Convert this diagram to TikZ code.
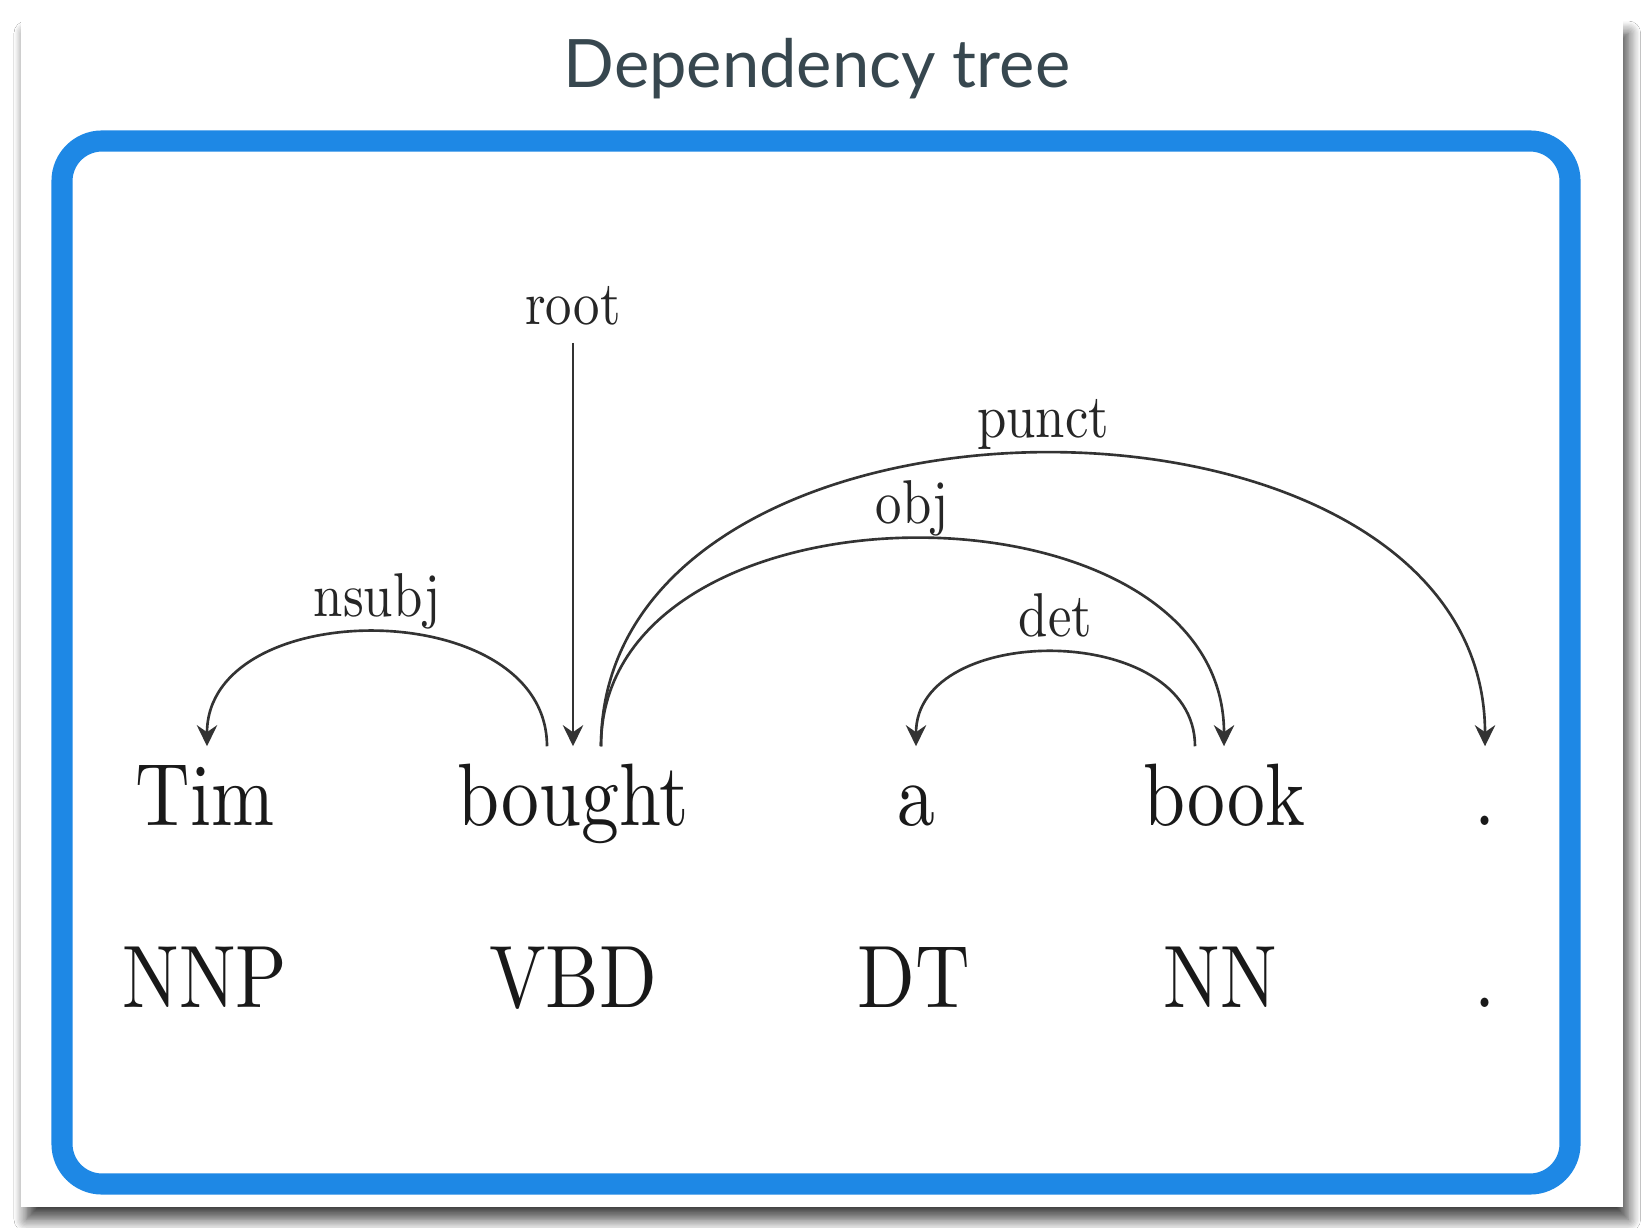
\documentclass[tikz,border=0pt]{standalone}
\usepackage{fontspec}
\usepackage{graphicx}
\usepackage{tikz}
\usetikzlibrary{arrows.meta,positioning,shadows.blur}
\newfontfamily\titlefont{Lato}
\definecolor{boxblue}{RGB}{30,136,229}
\definecolor{titlegray}{RGB}{55,71,79}
\newcommand{\wordtext}[1]{\scalebox{2.15}[2.52]{#1}}
\newcommand{\labeltext}[1]{\scalebox{1.5}[1.76]{#1}}

\begin{document}
\begin{tikzpicture}[
    x=0.01cm, y=-0.01cm,
    card/.style={fill=white, blur shadow={shadow xshift=1.5pt, shadow yshift=-3.5pt, shadow blur radius=3.5pt, shadow blur steps=10, shadow opacity=75}},
    frame/.style={draw=boxblue, line width=6pt, rounded corners=0.4cm},
    titletext/.style={anchor=base, inner sep=0, text=titlegray, font=\titlefont\fontsize{19}{23}\selectfont},
    word/.style={anchor=base, inner sep=0, text height=0.78cm, text depth=0.1cm, text=black!90},
    deplabel/.style={anchor=base, inner sep=0, text=black!85, yshift=0.16cm},
    dep/.style={-{Stealth[length=6pt, width=5.8pt, inset=2pt]}, line width=0.75pt, black!80}
  ]
    \useasboundingbox (0,0) rectangle (1643,1228);
    \fill[white] (0,0) rectangle (1643,1228);
    \path[card] (21,21) rectangle (1623,1207);
    \draw[frame] (62,141) rectangle (1570,1184);

    \node[titletext] (title) at (817,88) {Dependency tree};

    % words
    \node[word] (tim) at (205,825) {\wordtext{Tim}};
    \node[word] (bought) at (573,825) {\wordtext{bought}};
    \node[word] (a) at (916,825) {\wordtext{a}};
    \node[word] (book) at (1224,825) {\wordtext{book}};
    \node[word] (period) at (1485,825) {\wordtext{.}};

    % tags
    \node[word] (nnp) at (205,1007) {\wordtext{NNP}};
    \node[word] (vbd) at (573,1007) {\wordtext{VBD}};
    \node[word] (dt) at (914,1007) {\wordtext{DT}};
    \node[word] (nn) at (1220,1007) {\wordtext{NN}};
    \node[word] (punc) at (1485,1007) {\wordtext{.}};

    % arcs
    \coordinate (roottop) at (573,343);
    \draw[dep] (roottop) -- (bought.north) node[at start, deplabel, yshift=0.02cm] (l-root) {\labeltext{root}};
    \draw[dep] ([xshift=-0.26cm]bought.north) .. controls +(0,-152) and +(0,-152) .. ([xshift=0.02cm]tim.north)
      node[midway, deplabel] (l-nsubj) {\labeltext{nsubj}};
    \draw[dep] ([xshift=0.28cm]bought.north) .. controls +(0,-276) and +(0,-276) .. (book.north)
      node[midway, deplabel] (l-obj) {\labeltext{obj}};
    \draw[dep] ([xshift=0.28cm]bought.north) .. controls +(0,-390) and +(0,-390) .. (period.north)
      node[midway, deplabel] (l-punct) {\labeltext{punct}};
    \draw[dep] ([xshift=-0.29cm]book.north) .. controls +(0,-125) and +(0,-125) .. (a.north)
      node[midway, deplabel] (l-det) {\labeltext{det}};
\end{tikzpicture}
\end{document}
